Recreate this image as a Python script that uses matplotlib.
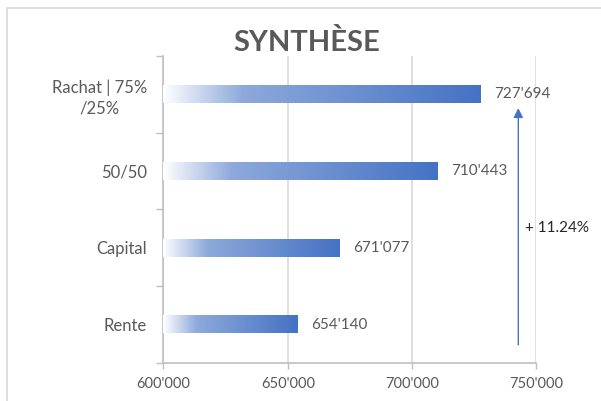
import matplotlib
matplotlib.use('Agg')
import matplotlib.pyplot as plt
import numpy as np
from matplotlib.colors import LinearSegmentedColormap
from matplotlib.patches import Rectangle

plt.rcParams['font.family'] = ['Lato', 'DejaVu Sans']

# data
categories = ['Rente', 'Capital', '50/50', 'Rachat | 75%\n/25%']
values = [654140, 671077, 710443, 727694]
x_ticks = [600000, 650000, 700000, 750000]
increase_label = '+ 11.24%'

text_grey = '#595959'
grid_grey = '#D9D9D9'
axis_grey = '#BFBFBF'

# gradient white -> light blue -> excel blue
cmap = LinearSegmentedColormap.from_list(
    'bar_grad', [(0.0, '#FFFFFF'), (0.25, '#8EA9DB'), (1.0, '#4472C4')])

fig = plt.figure(figsize=(6.01, 4.01), dpi=100)
ax = fig.add_axes([0.272, 0.095, 0.6206, 0.7656])

# outer chart frame (partly cut off like the screenshot)
fig.patches.append(Rectangle((7 / 601, -0.05), 1.1, 1 - 8 / 401 + 0.05,
                             transform=fig.transFigure, fill=False,
                             edgecolor='#D9D9D9', linewidth=1.2))

y = np.arange(len(categories))
bar_h = 0.23
bars = ax.barh(y, values, height=bar_h, left=0, color='none', zorder=3)

grad = np.linspace(0, 1, 256).reshape(1, -1)
for b, v in zip(bars, values):
    yc = b.get_y()
    ax.imshow(grad, cmap=cmap, aspect='auto', zorder=3,
              extent=[x_ticks[0], v, yc, yc + bar_h], interpolation='bicubic')
    ax.text(v + 5200, yc + bar_h / 2, f'{v:,}'.replace(',', "'"),
            va='center', ha='left', color=text_grey, fontsize=11)

ax.set_xlim(x_ticks[0], x_ticks[-1])
ax.set_ylim(-0.5, len(categories) - 0.5)
ax.set_xticks(x_ticks)
ax.set_xticklabels([f'{t:,}'.replace(',', "'") for t in x_ticks])
ax.set_yticks(y)
ax.set_yticklabels(categories, multialignment='center', linespacing=1.35)
ax.set_yticks(np.arange(-0.5, len(categories)), minor=True)

ax.tick_params(axis='y', which='major', length=0, pad=12,
               labelsize=12, labelcolor=text_grey)
ax.tick_params(axis='y', which='minor', length=5, color=axis_grey, width=1)
ax.tick_params(axis='x', length=4, color=axis_grey, width=1, pad=6,
               labelsize=10.5, labelcolor=text_grey)

ax.grid(axis='x', color=grid_grey, linewidth=1.2, zorder=0)
ax.set_axisbelow(True)
for s in ['top', 'right']:
    ax.spines[s].set_visible(False)
for s in ['left', 'bottom']:
    ax.spines[s].set_color(axis_grey)
    ax.spines[s].set_linewidth(1.2)

# increase arrow from Rente to Rachat
arrow_x = 742700
ax.annotate('', xy=(arrow_x, 2.82), xytext=(arrow_x, -0.265),
            arrowprops=dict(arrowstyle='-|>', color='#4472C4', lw=1,
                            mutation_scale=14, shrinkA=0, shrinkB=0),
            zorder=4)
ax.text(arrow_x + 2600, 1.26, increase_label, ha='left', va='center',
        color='#262626', fontsize=11, zorder=5)

fig.text(0.51, 0.893, 'SYNTHÈSE', ha='center', va='center',
         fontsize=21, fontweight='bold', color=text_grey)

fig.savefig('out.png', dpi=100)
